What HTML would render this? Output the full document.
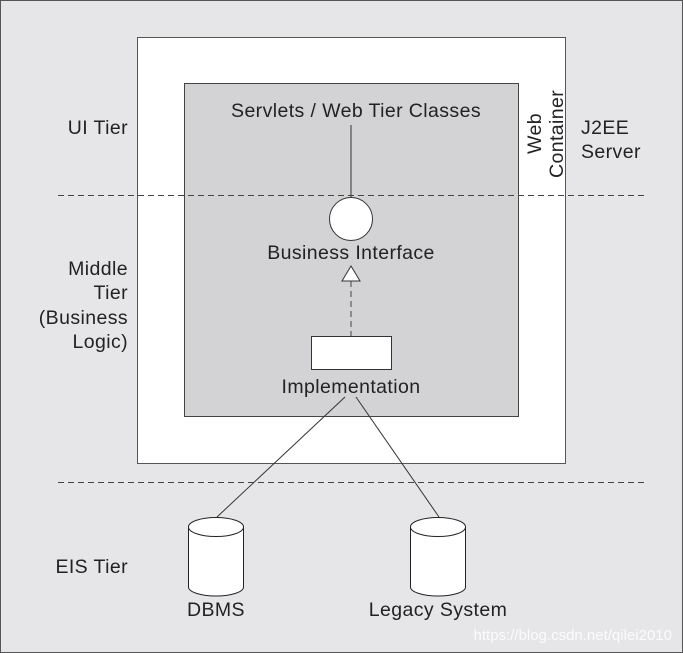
<!DOCTYPE html>
<html><head><style>body{margin:0;}svg{display:block;}</style></head><body>
<svg width="683" height="653" xmlns="http://www.w3.org/2000/svg" font-family="Liberation Sans, sans-serif" font-size="19.5" letter-spacing="0.4" fill="#222">
<rect x="0.5" y="0.5" width="682" height="652" fill="#e6e6e8" stroke="#555"/>
<rect x="137.5" y="37.5" width="428" height="426" fill="#fff" stroke="#555"/>
<rect x="184.5" y="83.5" width="334" height="333" fill="#d3d3d5" stroke="#444"/>
<g stroke="#444" stroke-dasharray="6,4" fill="none">
<line x1="58" y1="195.5" x2="645" y2="195.5"/>
<line x1="58" y1="482.5" x2="645" y2="482.5"/>
<line x1="351" y1="281" x2="351" y2="336"/>
</g>
<line x1="351" y1="125" x2="351" y2="198" stroke="#333"/>
<circle cx="351" cy="219" r="21.5" fill="#fff" stroke="#333"/>
<polygon points="351,266 342,281 360,281" fill="#fff" stroke="#333"/>
<rect x="311.5" y="336.5" width="80" height="33" fill="#fff" stroke="#333"/>
<line x1="345" y1="397" x2="217" y2="517" stroke="#333"/>
<line x1="356" y1="397" x2="439" y2="517" stroke="#333"/>
<g fill="#fff" stroke="#222">
<path d="M188.5,527 L188.5,587 A27.5,9 0 0 0 243.5,587 L243.5,527"/>
<ellipse cx="216" cy="527" rx="27.5" ry="9.5"/>
<path d="M410.5,527 L410.5,587 A27.5,9 0 0 0 465.5,587 L465.5,527"/>
<ellipse cx="438" cy="527" rx="27.5" ry="9.5"/>
</g>
<g text-anchor="middle">
<text x="356" y="117">Servlets / Web Tier Classes</text>
<text x="351" y="259">Business Interface</text>
<text x="351" y="393">Implementation</text>
<text x="216" y="616">DBMS</text>
<text x="438" y="616">Legacy System</text>
</g>
<g text-anchor="end">
<text x="128" y="134">UI Tier</text>
<text x="128" y="275">Middle</text>
<text x="128" y="299">Tier</text>
<text x="128" y="324">(Business</text>
<text x="128" y="348">Logic)</text>
<text x="128" y="573">EIS Tier</text>
</g>
<text x="581" y="134">J2EE</text>
<text x="581" y="158">Server</text>
<text transform="translate(541,154) rotate(-90)">Web</text>
<text transform="translate(563,178) rotate(-90)">Container</text>
<text x="672" y="640" text-anchor="end" font-size="15" letter-spacing="0" fill="#fff" opacity="0.85">https://blog.csdn.net/qilei2010</text>
</svg>
</body></html>
